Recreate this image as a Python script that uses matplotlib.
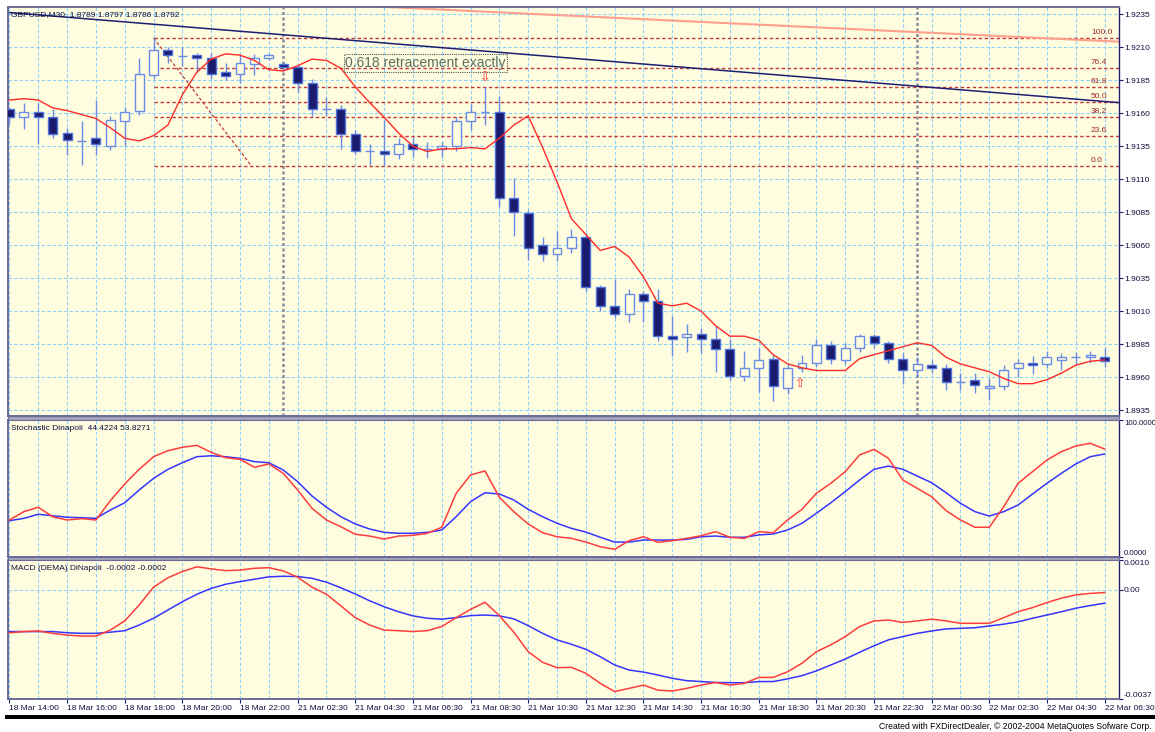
import matplotlib
matplotlib.use('Agg')
import matplotlib.pyplot as plt
import numpy as np
from matplotlib.patches import Rectangle

plt.rcParams['font.family'] = ['Liberation Sans', 'DejaVu Sans']

# ---------------- data ----------------
time_labels = ["18 Mar 14:00", "18 Mar 16:00", "18 Mar 18:00", "18 Mar 20:00", "18 Mar 22:00",
               "21 Mar 02:30", "21 Mar 04:30", "21 Mar 06:30", "21 Mar 08:30", "21 Mar 10:30",
               "21 Mar 12:30", "21 Mar 14:30", "21 Mar 16:30", "21 Mar 18:30", "21 Mar 20:30",
               "21 Mar 22:30", "22 Mar 00:30", "22 Mar 02:30", "22 Mar 04:30", "22 Mar 06:30"]

opens = [1.9163, 1.9157, 1.9161, 1.9157, 1.9145, 1.9139, 1.9141, 1.9135, 1.9154, 1.9162,
         1.9189, 1.9208, 1.9203, 1.9204, 1.9202, 1.9191, 1.9190, 1.9197, 1.9202, 1.9197,
         1.9195, 1.9183, 1.9163, 1.9163, 1.9144, 1.9131, 1.9131, 1.9129, 1.9137, 1.9133,
         1.9133, 1.9135, 1.9154, 1.9161, 1.9161, 1.9096, 1.9084, 1.9060, 1.9053, 1.9058,
         1.9066, 1.9028, 1.9014, 1.9008, 1.9023, 1.9018, 1.8991, 1.8990, 1.8993, 1.8989,
         1.8981, 1.8961, 1.8967, 1.8974, 1.8952, 1.8967, 1.8971, 1.8984, 1.8973, 1.8982,
         1.8991, 1.8986, 1.8974, 1.8965, 1.8969, 1.8967, 1.8956, 1.8958, 1.8952, 1.8953,
         1.8967, 1.8971, 1.8970, 1.8973, 1.8975, 1.8975, 1.8975]
highs = [1.9165, 1.9168, 1.9168, 1.9163, 1.9149, 1.9154, 1.9170, 1.9158, 1.9165, 1.9202,
         1.9217, 1.9210, 1.9210, 1.9206, 1.9206, 1.9198, 1.9204, 1.9205, 1.9206, 1.9199,
         1.9197, 1.9186, 1.9172, 1.9166, 1.9147, 1.9137, 1.9155, 1.9141, 1.9142, 1.9138,
         1.9138, 1.9157, 1.9167, 1.9180, 1.9173, 1.9111, 1.9087, 1.9066, 1.9071, 1.9072,
         1.9069, 1.9030, 1.9034, 1.9027, 1.9025, 1.9027, 1.9006, 1.9000, 1.8997, 1.8999,
         1.8989, 1.8980, 1.8982, 1.8977, 1.8971, 1.8977, 1.8989, 1.8987, 1.8986, 1.8993,
         1.8993, 1.8987, 1.8978, 1.8975, 1.8973, 1.8970, 1.8963, 1.8963, 1.8959, 1.8969,
         1.8974, 1.8976, 1.8980, 1.8978, 1.8979, 1.8980, 1.8982]
lows = [1.9152, 1.9148, 1.9137, 1.9141, 1.9128, 1.9121, 1.9128, 1.9132, 1.9135, 1.9159,
        1.9186, 1.9198, 1.9196, 1.9191, 1.9186, 1.9185, 1.9183, 1.9189, 1.9200, 1.9192,
        1.9176, 1.9158, 1.9158, 1.9133, 1.9129, 1.9121, 1.9120, 1.9125, 1.9127, 1.9126,
        1.9127, 1.9131, 1.9147, 1.9151, 1.9089, 1.9067, 1.9049, 1.9048, 1.9048, 1.9054,
        1.9025, 1.9010, 1.9005, 1.9002, 1.9002, 1.8987, 1.8976, 1.8979, 1.8978, 1.8964,
        1.8958, 1.8957, 1.8949, 1.8942, 1.8947, 1.8964, 1.8968, 1.8970, 1.8970, 1.8979,
        1.8982, 1.8971, 1.8955, 1.8960, 1.8963, 1.8950, 1.8950, 1.8948, 1.8943, 1.8950,
        1.8960, 1.8962, 1.8967, 1.8965, 1.8970, 1.8971, 1.8968]
closes = [1.9157, 1.9161, 1.9157, 1.9144, 1.9140, 1.9139, 1.9137, 1.9155, 1.9161, 1.9190,
          1.9208, 1.9204, 1.9203, 1.9202, 1.9190, 1.9188, 1.9198, 1.9202, 1.9204, 1.9195,
          1.9183, 1.9163, 1.9163, 1.9144, 1.9131, 1.9131, 1.9129, 1.9137, 1.9133, 1.9133,
          1.9135, 1.9154, 1.9161, 1.9161, 1.9096, 1.9085, 1.9058, 1.9053, 1.9058, 1.9066,
          1.9028, 1.9014, 1.9008, 1.9023, 1.9018, 1.8991, 1.8989, 1.8993, 1.8989, 1.8981,
          1.8961, 1.8967, 1.8973, 1.8953, 1.8967, 1.8971, 1.8984, 1.8974, 1.8982, 1.8991,
          1.8986, 1.8974, 1.8965, 1.8970, 1.8967, 1.8956, 1.8956, 1.8954, 1.8953, 1.8965,
          1.8971, 1.8969, 1.8975, 1.8975, 1.8975, 1.8977, 1.8972]

dma_3x3 = [1.9170, 1.9171, 1.9170, 1.9164, 1.9162, 1.9159, 1.9156, 1.9149, 1.9141, 1.9139,
           1.9143, 1.9151, 1.9174, 1.9191, 1.9201, 1.9205, 1.9204, 1.9200, 1.9193, 1.9192,
           1.9196, 1.9201, 1.9200, 1.9194, 1.9180, 1.9168, 1.9157, 1.9145, 1.9135, 1.9131,
           1.9133, 1.9133, 1.9134, 1.9133, 1.9141, 1.9151, 1.9158, 1.9134, 1.9108, 1.9080,
           1.9068, 1.9056, 1.9059, 1.9051, 1.9036, 1.9016, 1.9014, 1.9016, 1.9010, 1.8999,
           1.8991, 1.8991, 1.8988, 1.8977, 1.8970, 1.8967, 1.8965, 1.8965, 1.8965, 1.8974,
           1.8977, 1.8980, 1.8983, 1.8986, 1.8984, 1.8975, 1.8970, 1.8967, 1.8964, 1.8959,
           1.8955, 1.8955, 1.8958, 1.8963, 1.8969, 1.8972, 1.8973]

stoch_fast = [27.0, 33.1, 36.3, 29.4, 27.0, 28.0, 27.0, 41.1, 53.3, 64.0,
              73.2, 77.6, 80.1, 81.5, 76.4, 72.5, 71.3, 65.5, 67.9, 61.1,
              48.9, 35.5, 27.0, 22.1, 16.6, 15.3, 13.1, 15.3, 15.8, 17.3,
              21.7, 46.5, 59.9, 62.8, 43.6, 33.1, 24.1, 17.7, 14.8, 13.6,
              10.9, 7.5, 5.6, 11.9, 14.8, 10.7, 11.9, 13.6, 15.5, 18.5,
              14.4, 13.6, 18.5, 17.7, 27.0, 34.8, 46.5, 53.8, 62.3, 74.5,
              78.6, 72.0, 56.2, 50.1, 44.0, 33.8, 27.0, 21.7, 21.7, 36.7,
              53.8, 62.3, 70.8, 76.9, 81.0, 83.0, 78.8]
stoch_slow = [26.5, 28.2, 31.2, 30.1, 29.0, 28.7, 28.2, 34.3, 39.6, 48.9,
              57.4, 64.0, 68.8, 73.2, 73.9, 73.2, 72.0, 69.6, 68.8, 63.5,
              55.0, 44.5, 36.3, 29.4, 24.1, 20.4, 18.0, 17.3, 17.3, 18.0,
              19.7, 29.4, 40.4, 46.9, 46.0, 41.6, 34.8, 29.4, 24.6, 20.9,
              18.2, 14.4, 10.9, 10.9, 12.4, 12.4, 12.4, 12.9, 14.8, 15.3,
              14.4, 14.4, 16.1, 16.8, 19.7, 24.6, 31.9, 39.6, 47.7, 56.2,
              64.0, 66.4, 64.0, 59.1, 54.2, 46.9, 39.2, 33.1, 29.9, 33.1,
              38.0, 46.0, 53.8, 61.1, 67.9, 73.2, 75.2]

macd_line = [-0.00146, -0.00142, -0.00140, -0.00148, -0.00154, -0.00157, -0.00157, -0.00137, -0.00106, -0.00052,
             0.00008, 0.00040, 0.00061, 0.00077, 0.00070, 0.00064, 0.00066, 0.00072, 0.00074, 0.00063,
             0.00042, 0.00008, -0.00016, -0.00055, -0.00095, -0.00120, -0.00137, -0.00139, -0.00142, -0.00139,
             -0.00125, -0.00095, -0.00067, -0.00043, -0.00088, -0.00144, -0.00210, -0.00246, -0.00264, -0.00263,
             -0.00283, -0.00317, -0.00345, -0.00334, -0.00323, -0.00340, -0.00343, -0.00334, -0.00323, -0.00314,
             -0.00323, -0.00317, -0.00297, -0.00297, -0.00278, -0.00249, -0.00210, -0.00187, -0.00159, -0.00125,
             -0.00106, -0.00103, -0.00111, -0.00106, -0.00100, -0.00106, -0.00114, -0.00114, -0.00114, -0.00095,
             -0.00075, -0.00061, -0.00044, -0.00029, -0.00018, -0.00013, -0.00010]
macd_signal = [-0.00142, -0.00142, -0.00142, -0.00142, -0.00146, -0.00148, -0.00148, -0.00144, -0.00139, -0.00120,
               -0.00097, -0.00069, -0.00041, -0.00016, 0.00004, 0.00018, 0.00027, 0.00035, 0.00043, 0.00045,
               0.00044, 0.00038, 0.00025, 0.00006, -0.00015, -0.00038, -0.00058, -0.00075, -0.00089, -0.00097,
               -0.00100, -0.00095, -0.00088, -0.00086, -0.00089, -0.00099, -0.00122, -0.00148, -0.00170, -0.00185,
               -0.00202, -0.00227, -0.00255, -0.00272, -0.00279, -0.00289, -0.00300, -0.00308, -0.00311, -0.00314,
               -0.00315, -0.00315, -0.00311, -0.00311, -0.00302, -0.00291, -0.00275, -0.00255, -0.00235, -0.00212,
               -0.00190, -0.00170, -0.00159, -0.00148, -0.00140, -0.00133, -0.00131, -0.00129, -0.00123, -0.00117,
               -0.00109, -0.00097, -0.00086, -0.00075, -0.00063, -0.00054, -0.00046]

price_ticks = [1.8935, 1.8960, 1.8985, 1.9010, 1.9035, 1.9060, 1.9085, 1.9110,
               1.9135, 1.9160, 1.9185, 1.9210, 1.9235]
price_limits = (1.89305, 1.92405)
stoch_ticks = [0.0, 100.0]
stoch_tick_labels = ["0.0000", "100.0000"]
macd_ticks = [-0.0037, 0.0, 0.0010]
macd_tick_labels = ["-0.0037", "0.00", "0.0010"]

fib_levels = [0.0, 23.6, 38.2, 50.0, 61.8, 76.4, 100.0]
fib_high = 1.9217
fib_low = 1.9120
fib_anchor_bars = [10, 16.8]

trend_navy_bars = [-0.1, 77.0]
trend_navy_prices = [1.92364, 1.91680]
trend_salmon_bars = [25.2, 77.0]
trend_salmon_prices = [1.92410, 1.92142]

day_separator_bars = [19, 63]
note_text = "0.618 retracement exactly"
note_bar, note_price = 23.3, 1.91981
arrow_down_bar, arrow_down_price = 33, 1.91863
arrow_up_bar, arrow_up_price = 54.9, 1.89555

header_main = "GBPUSD,M30  1.8789 1.8797 1.8786 1.8792"
header_stoch = "Stochastic Dinapoli  44.4224 53.8271"
header_macd = "MACD (DEMA) DiNapoli  -0.0002 -0.0002"
footer = "Created with FXDirectDealer, \u00a9 2002-2004 MetaQuotes Sofware Corp."

# ---------------- styling ----------------
W_PX, H_PX = 1155, 732
BG = '#FFFDE0'
GRID = '#8CCFF8'
GRID_LS = (0, (3, 2))
AX_COL = '#20206A'
TXT_COL = '#101040'
FS = 6

fig = plt.figure(figsize=(W_PX / 100, H_PX / 100), dpi=100)
fig.patch.set_facecolor('white')


def fy(ypx):
    return 1 - ypx / H_PX


LEFT_PX, RIGHT_PX = 8.3, 1119
L = LEFT_PX / W_PX
Wd = (RIGHT_PX - LEFT_PX) / W_PX
ax_m = fig.add_axes([L, fy(416), Wd, (416 - 7) / H_PX])
ax_s = fig.add_axes([L, fy(557), Wd, (557 - 420) / H_PX])
ax_d = fig.add_axes([L, fy(699), Wd, (699 - 560) / H_PX])

n = len(opens)
x = np.arange(n)
xlim = (-0.08, 77.0)

for ax in (ax_m, ax_s, ax_d):
    ax.set_facecolor(BG)
    ax.set_xlim(*xlim)
    ax.set_xticks(np.arange(0, n, 4))
    ax.set_xticks(np.arange(2, n, 4), minor=True)
    ax.grid(True, axis='x', which='both', color=GRID, linestyle=GRID_LS, linewidth=0.8, zorder=0)
    ax.yaxis.tick_right()
    ax.tick_params(axis='x', which='both', length=0, labelbottom=False)
    ax.tick_params(axis='y', which='both', length=3, color=AX_COL, labelsize=FS,
                   labelcolor=TXT_COL, pad=0.6, width=0.8)
    for side in ('left', 'top', 'bottom'):
        ax.spines[side].set_color('#6A6A98')
        ax.spines[side].set_linewidth(1.4)
    ax.spines['right'].set_color(AX_COL)
    ax.spines['right'].set_linewidth(1.0)
    ax.set_axisbelow(True)

# ---------- main price panel ----------
ax_m.set_ylim(*price_limits)
ax_m.set_yticks(price_ticks)
ax_m.set_yticklabels([f"{p:.4f}" for p in price_ticks])
ax_m.grid(True, axis='y', color=GRID, linestyle=GRID_LS, linewidth=0.8, zorder=0)

o = np.array(opens); h = np.array(highs); lo = np.array(lows); c = np.array(closes)
up = c >= o
ax_m.vlines(x, lo, h, color='#6B8CE6', linewidth=1.0, zorder=3)
bottoms = np.minimum(o, c)
heights = np.abs(c - o)
ax_m.bar(x[~up], heights[~up], bottom=bottoms[~up], width=0.62, color='#1B1B6E',
         edgecolor='#4F72DC', linewidth=1.0, zorder=4)
ax_m.bar(x[up], heights[up], bottom=bottoms[up], width=0.62, color=BG,
         edgecolor='#6B8CE6', linewidth=1.0, zorder=4)

# day separators
for b in day_separator_bars:
    ax_m.axvline(b, color='#8C8C9C', linestyle=(0, (1.2, 1.0)), linewidth=1.8, zorder=2)

# fibonacci
for lev in fib_levels:
    p = fib_low + (fib_high - fib_low) * lev / 100.0
    ax_m.hlines(p, fib_anchor_bars[0], xlim[1], color='#C23A3A', linestyle=(0, (2.5, 1.8)),
                linewidth=1.0, zorder=2)
    ax_m.annotate(f"{lev:.1f}", xy=(75.05, p), xytext=(0, 1.5), textcoords='offset points',
                  fontsize=FS, color='#A02828', ha='left', va='bottom', zorder=6)
ax_m.plot(fib_anchor_bars, [fib_high, fib_low], color='#C23A3A', linestyle=(0, (2.5, 1.8)),
          linewidth=0.9, zorder=2)

# trendlines
ax_m.plot(trend_salmon_bars, trend_salmon_prices, color='#FFA08C', linewidth=1.5, zorder=2)
ax_m.plot(trend_navy_bars, trend_navy_prices, color='#1E1E70', linewidth=1.1, zorder=2)

# moving average
ax_m.plot(x, dma_3x3, color='#FF2A2A', linewidth=1.0, zorder=5)

# annotations
ax_m.text(note_bar, note_price, note_text, fontsize=10, color='#5E6E5E', ha='left', va='center',
          zorder=7, bbox=dict(boxstyle='square,pad=0.12', fc='none', ec='#555555',
                              linestyle=(0, (1, 1)), linewidth=0.8))
ax_m.text(arrow_down_bar, arrow_down_price, '\u21e9', fontsize=9, color='#FF2A2A',
          ha='center', va='center', zorder=7, family='DejaVu Sans')
ax_m.text(arrow_up_bar, arrow_up_price, '\u21e7', fontsize=9, color='#FF2A2A',
          ha='center', va='center', zorder=7, family='DejaVu Sans')

# ---------- stochastic panel ----------
ax_s.set_ylim(0, 100)
ax_s.set_yticks(stoch_ticks)
ax_s.set_yticklabels(stoch_tick_labels)
lbls = ax_s.get_yticklabels()
lbls[0].set_va('bottom'); lbls[1].set_va('top')
for t in lbls:
    t.set_fontsize(5.6)
ax_s.plot(x, stoch_slow, color='#3535FF', linewidth=1.1, zorder=4)
ax_s.plot(x, stoch_fast, color='#FF3C3C', linewidth=1.1, zorder=5)

# ---------- MACD panel ----------
ax_d.set_ylim(macd_ticks[0], macd_ticks[-1])
ax_d.set_yticks(macd_ticks)
ax_d.set_yticklabels(macd_tick_labels)
lbls = ax_d.get_yticklabels()
lbls[0].set_va('bottom'); lbls[2].set_va('top')
ax_d.axhline(0.0, color=GRID, linestyle=GRID_LS, linewidth=0.8, zorder=0)
ax_d.plot(x, macd_signal, color='#3535FF', linewidth=1.1, zorder=4)
ax_d.plot(x, macd_line, color='#FF3C3C', linewidth=1.1, zorder=5)
ax_d.tick_params(axis='x', which='major', length=3, color=AX_COL, width=0.8,
                 labelbottom=True, labelsize=FS, labelcolor=TXT_COL, pad=1.5)
ax_d.set_xticklabels(time_labels)
for t in ax_d.get_xticklabels():
    t.set_ha('left')
    t.set_clip_on(False)

# ---------- headers, separators, footer ----------
fig.text(11 / W_PX, fy(14.7), header_main, fontsize=FS, color=TXT_COL, va='center', ha='left', zorder=10)
fig.text(11 / W_PX, fy(428), header_stoch, fontsize=FS, color=TXT_COL, va='center', ha='left')
fig.text(11 / W_PX, fy(568.7), header_macd, fontsize=FS, color=TXT_COL, va='center', ha='left')

for top_px, bot_px in ((416, 420), (557, 560)):
    fig.patches.append(Rectangle((L, fy(bot_px)), Wd, (bot_px - top_px) / H_PX,
                                 transform=fig.transFigure, facecolor='#A4A4B8',
                                 edgecolor='#6A6A98', linewidth=0.8, zorder=5))
fig.patches.append(Rectangle((5 / W_PX, fy(719)), (W_PX - 5) / W_PX, 4 / H_PX,
                             transform=fig.transFigure, facecolor='black', edgecolor='none'))
fig.text(1152 / W_PX, fy(726.5), footer, fontsize=6.2, color='black', ha='right', va='center')

fig.savefig('out.png', dpi=100, facecolor='white')
